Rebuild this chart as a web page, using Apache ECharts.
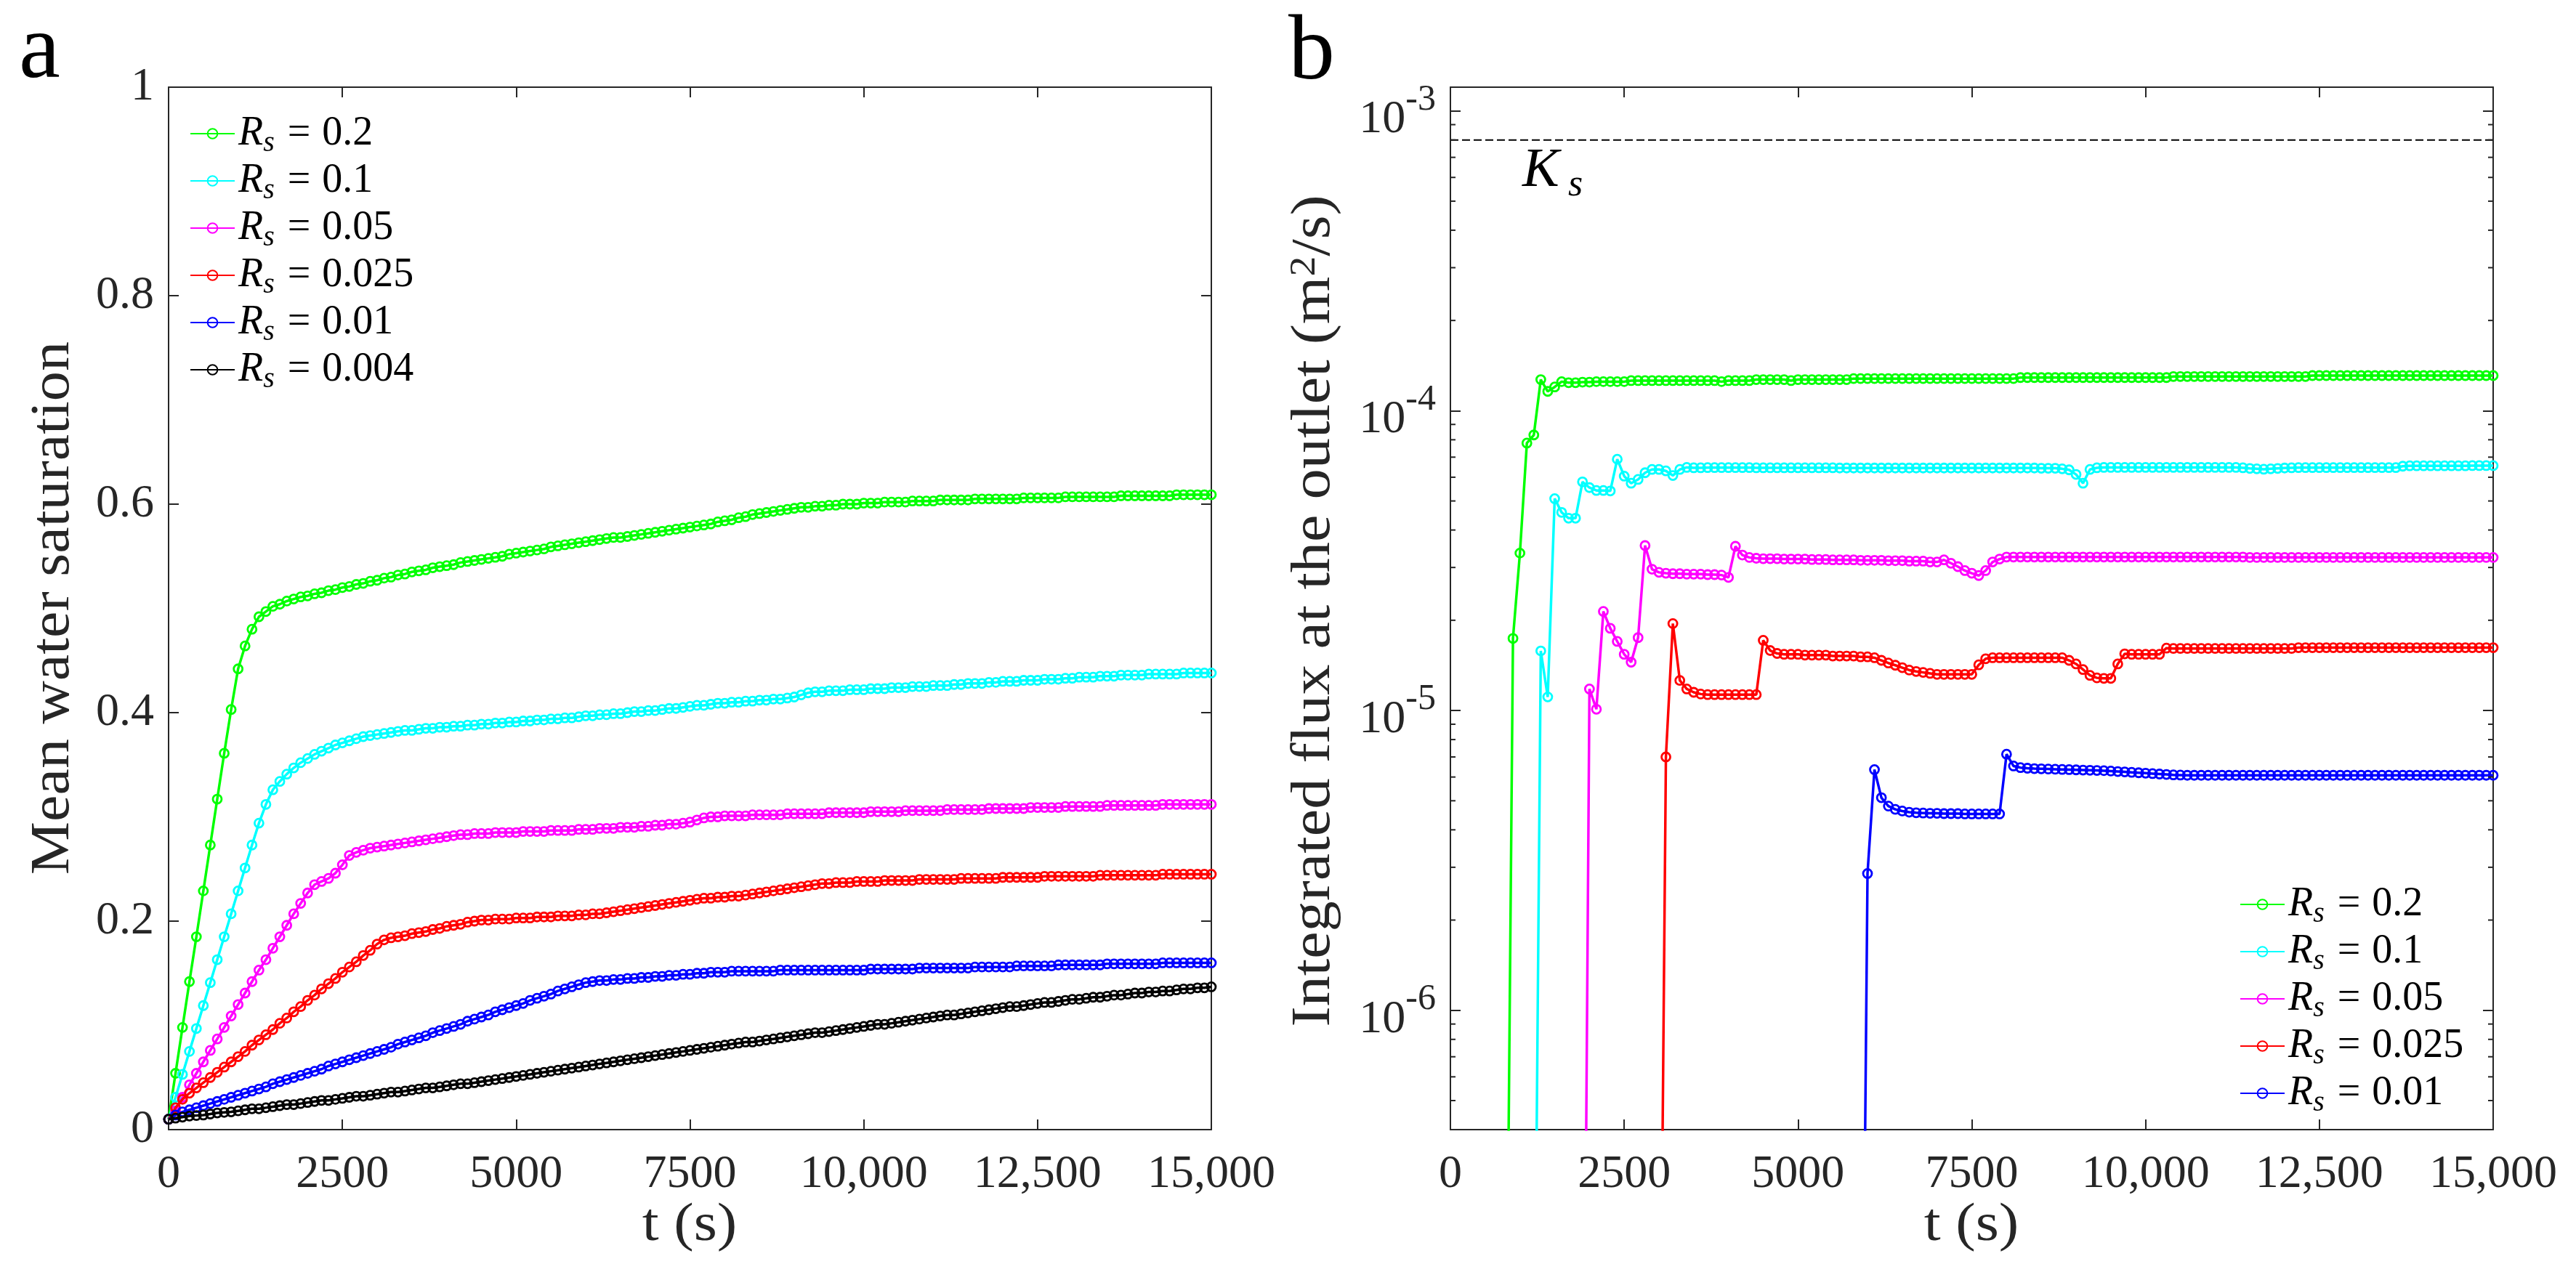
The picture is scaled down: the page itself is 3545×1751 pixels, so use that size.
<!DOCTYPE html>
<html>
<head>
<meta charset="utf-8">
<script src="https://cdn.jsdelivr.net/npm/echarts@6/dist/echarts.min.js"></script>
<style>
html, body { margin: 0; padding: 0; background: #fff; }
#chart { width: 3545px; height: 1751px; }
</style>
</head>
<body>
<div id="chart"></div>
<script>
// time axis, one sample every 100 s
var T = [
  0,100,200,300,400,500,600,700,800,900,
  1000,1100,1200,1300,1400,1500,1600,1700,1800,1900,
  2000,2100,2200,2300,2400,2500,2600,2700,2800,2900,
  3000,3100,3200,3300,3400,3500,3600,3700,3800,3900,
  4000,4100,4200,4300,4400,4500,4600,4700,4800,4900,
  5000,5100,5200,5300,5400,5500,5600,5700,5800,5900,
  6000,6100,6200,6300,6400,6500,6600,6700,6800,6900,
  7000,7100,7200,7300,7400,7500,7600,7700,7800,7900,
  8000,8100,8200,8300,8400,8500,8600,8700,8800,8900,
  9000,9100,9200,9300,9400,9500,9600,9700,9800,9900,
  10000,10100,10200,10300,10400,10500,10600,10700,10800,10900,
  11000,11100,11200,11300,11400,11500,11600,11700,11800,11900,
  12000,12100,12200,12300,12400,12500,12600,12700,12800,12900,
  13000,13100,13200,13300,13400,13500,13600,13700,13800,13900,
  14000,14100,14200,14300,14400,14500,14600,14700,14800,14900,
  15000
];

var rsLabels = ['0.2', '0.1', '0.05', '0.025', '0.01', '0.004'];
var rsColors = ['#00ff00', '#00ffff', '#ff00ff', '#ff0000', '#0000ff', '#000000'];

// panel a: mean water saturation
var satR0200 = [
  0.010,0.054,0.098,0.142,0.185,0.229,0.273,0.317,0.361,0.403,
  0.442,0.464,0.480,0.492,0.497,0.502,0.504,0.507,0.509,0.511,
  0.512,0.514,0.515,0.517,0.518,0.520,0.521,0.523,0.524,0.526,
  0.527,0.529,0.530,0.532,0.533,0.535,0.536,0.537,0.539,0.540,
  0.541,0.542,0.544,0.545,0.546,0.547,0.548,0.549,0.550,0.552,
  0.553,0.554,0.555,0.556,0.557,0.559,0.560,0.561,0.562,0.563,
  0.564,0.565,0.566,0.567,0.568,0.568,0.569,0.570,0.571,0.572,
  0.573,0.574,0.575,0.576,0.577,0.578,0.579,0.580,0.581,0.583,
  0.584,0.585,0.587,0.588,0.590,0.591,0.592,0.593,0.594,0.595,
  0.596,0.597,0.597,0.598,0.598,0.599,0.599,0.600,0.600,0.600,
  0.601,0.601,0.601,0.602,0.602,0.602,0.602,0.603,0.603,0.603,
  0.603,0.604,0.604,0.604,0.604,0.604,0.605,0.605,0.605,0.605,
  0.605,0.605,0.605,0.606,0.606,0.606,0.606,0.606,0.606,0.607,
  0.607,0.607,0.607,0.607,0.607,0.607,0.607,0.608,0.608,0.608,
  0.608,0.608,0.608,0.608,0.608,0.609,0.609,0.609,0.609,0.609,
  0.609
];
var satR0100 = [
  0.010,0.031,0.053,0.075,0.097,0.119,0.141,0.163,0.185,0.207,
  0.229,0.251,0.273,0.294,0.312,0.326,0.334,0.341,0.347,0.352,
  0.356,0.360,0.363,0.366,0.369,0.371,0.373,0.375,0.377,0.378,
  0.379,0.380,0.381,0.382,0.383,0.383,0.384,0.385,0.385,0.386,
  0.386,0.387,0.387,0.388,0.388,0.389,0.389,0.390,0.390,0.391,
  0.391,0.392,0.392,0.393,0.393,0.394,0.394,0.395,0.395,0.396,
  0.397,0.397,0.398,0.398,0.399,0.399,0.400,0.401,0.401,0.402,
  0.402,0.403,0.404,0.404,0.405,0.406,0.407,0.407,0.408,0.409,
  0.409,0.410,0.410,0.411,0.411,0.412,0.412,0.413,0.413,0.414,
  0.415,0.417,0.419,0.420,0.420,0.421,0.421,0.421,0.422,0.422,
  0.422,0.423,0.423,0.423,0.424,0.424,0.424,0.425,0.425,0.425,
  0.426,0.426,0.426,0.427,0.427,0.428,0.428,0.428,0.429,0.429,
  0.430,0.430,0.430,0.431,0.431,0.431,0.432,0.432,0.432,0.433,
  0.433,0.434,0.434,0.434,0.435,0.435,0.435,0.436,0.436,0.436,
  0.436,0.437,0.437,0.437,0.437,0.437,0.438,0.438,0.438,0.438,
  0.438
];
var satR0050 = [
  0.010,0.018,0.031,0.043,0.054,0.065,0.076,0.087,0.098,0.109,
  0.120,0.131,0.142,0.153,0.163,0.174,0.185,0.196,0.207,0.217,
  0.227,0.235,0.238,0.241,0.246,0.254,0.263,0.266,0.268,0.270,
  0.271,0.272,0.273,0.274,0.275,0.276,0.277,0.278,0.279,0.280,
  0.281,0.282,0.283,0.283,0.284,0.284,0.284,0.285,0.285,0.285,
  0.285,0.286,0.286,0.286,0.286,0.287,0.287,0.287,0.287,0.288,
  0.288,0.288,0.289,0.289,0.289,0.290,0.290,0.290,0.291,0.291,
  0.292,0.292,0.293,0.293,0.294,0.295,0.297,0.299,0.300,0.300,
  0.301,0.301,0.301,0.301,0.302,0.302,0.302,0.302,0.302,0.303,
  0.303,0.303,0.303,0.303,0.303,0.304,0.304,0.304,0.304,0.304,
  0.304,0.305,0.305,0.305,0.305,0.305,0.306,0.306,0.306,0.306,
  0.306,0.306,0.307,0.307,0.307,0.307,0.307,0.307,0.308,0.308,
  0.308,0.308,0.308,0.308,0.309,0.309,0.309,0.309,0.309,0.310,
  0.310,0.310,0.310,0.310,0.310,0.311,0.311,0.311,0.311,0.311,
  0.311,0.311,0.311,0.312,0.312,0.312,0.312,0.312,0.312,0.312,
  0.312
];
var satR0025 = [
  0.010,0.021,0.029,0.035,0.040,0.045,0.050,0.055,0.060,0.065,
  0.070,0.075,0.081,0.086,0.091,0.096,0.102,0.107,0.113,0.118,
  0.124,0.129,0.135,0.140,0.145,0.151,0.156,0.161,0.167,0.172,
  0.178,0.182,0.184,0.185,0.186,0.188,0.189,0.190,0.192,0.193,
  0.195,0.196,0.197,0.199,0.200,0.201,0.201,0.202,0.202,0.202,
  0.203,0.203,0.203,0.204,0.204,0.204,0.205,0.205,0.205,0.206,
  0.206,0.207,0.207,0.208,0.209,0.210,0.211,0.212,0.213,0.214,
  0.215,0.216,0.217,0.218,0.219,0.220,0.221,0.222,0.222,0.223,
  0.223,0.224,0.224,0.225,0.226,0.227,0.228,0.229,0.230,0.231,
  0.232,0.233,0.234,0.235,0.236,0.236,0.237,0.237,0.237,0.238,
  0.238,0.238,0.238,0.239,0.239,0.239,0.239,0.239,0.240,0.240,
  0.240,0.240,0.240,0.240,0.241,0.241,0.241,0.241,0.241,0.241,
  0.242,0.242,0.242,0.242,0.242,0.242,0.243,0.243,0.243,0.243,
  0.243,0.243,0.243,0.243,0.244,0.244,0.244,0.244,0.244,0.244,
  0.244,0.244,0.244,0.245,0.245,0.245,0.245,0.245,0.245,0.245,
  0.245
];
var satR0010 = [
  0.010,0.014,0.017,0.019,0.021,0.023,0.025,0.027,0.029,0.031,
  0.033,0.035,0.037,0.039,0.041,0.044,0.046,0.048,0.050,0.052,
  0.054,0.056,0.058,0.061,0.063,0.065,0.067,0.069,0.071,0.073,
  0.075,0.077,0.079,0.082,0.084,0.086,0.088,0.090,0.093,0.095,
  0.097,0.099,0.101,0.104,0.106,0.108,0.110,0.113,0.115,0.117,
  0.119,0.121,0.124,0.126,0.128,0.130,0.133,0.135,0.137,0.139,
  0.141,0.142,0.143,0.143,0.144,0.144,0.145,0.145,0.146,0.146,
  0.147,0.147,0.148,0.148,0.149,0.149,0.150,0.150,0.151,0.151,
  0.151,0.152,0.152,0.152,0.152,0.152,0.152,0.152,0.153,0.153,
  0.153,0.153,0.153,0.153,0.153,0.153,0.153,0.153,0.153,0.153,
  0.153,0.154,0.154,0.154,0.154,0.154,0.154,0.154,0.155,0.155,
  0.155,0.155,0.155,0.155,0.155,0.155,0.156,0.156,0.156,0.156,
  0.156,0.156,0.157,0.157,0.157,0.157,0.157,0.157,0.158,0.158,
  0.158,0.158,0.158,0.158,0.158,0.159,0.159,0.159,0.159,0.159,
  0.159,0.159,0.159,0.160,0.160,0.160,0.160,0.160,0.160,0.160,
  0.160
];
var satR0004 = [
  0.010,0.011,0.012,0.013,0.0135,0.014,0.015,0.016,0.0165,0.017,
  0.018,0.019,0.020,0.020,0.021,0.022,0.023,0.024,0.024,0.025,
  0.026,0.027,0.028,0.028,0.029,0.030,0.031,0.032,0.032,0.033,
  0.034,0.035,0.036,0.036,0.037,0.038,0.039,0.040,0.040,0.041,
  0.042,0.043,0.044,0.044,0.045,0.046,0.047,0.048,0.049,0.050,
  0.051,0.052,0.053,0.054,0.055,0.056,0.057,0.058,0.059,0.060,
  0.061,0.062,0.063,0.064,0.065,0.066,0.067,0.068,0.069,0.070,
  0.071,0.072,0.073,0.074,0.075,0.076,0.077,0.078,0.079,0.080,
  0.081,0.082,0.083,0.084,0.084,0.085,0.086,0.087,0.088,0.089,
  0.090,0.091,0.092,0.093,0.093,0.094,0.095,0.096,0.097,0.098,
  0.099,0.100,0.101,0.101,0.102,0.103,0.104,0.105,0.106,0.107,
  0.108,0.109,0.110,0.110,0.111,0.112,0.113,0.114,0.115,0.116,
  0.117,0.118,0.118,0.119,0.120,0.121,0.122,0.122,0.123,0.124,
  0.125,0.125,0.126,0.127,0.127,0.128,0.129,0.129,0.130,0.131,
  0.131,0.132,0.132,0.133,0.133,0.134,0.135,0.135,0.136,0.136,
  0.137
];

// panel b: integrated outlet flux (m2/s); null = nothing plotted yet
var fluxR0200 = [
  null,null,null,null,null,null,null,null,4e-8,1.74e-5,
  3.35e-5,7.8e-5,8.3e-5,1.27e-4,1.16e-4,1.20e-4,1.25e-4,1.24e-4,1.24e-4,1.245e-4,
  1.245e-4,1.25e-4,1.25e-4,1.25e-4,1.25e-4,1.25e-4,1.26e-4,1.26e-4,1.26e-4,1.26e-4,
  1.26e-4,1.26e-4,1.26e-4,1.26e-4,1.26e-4,1.26e-4,1.26e-4,1.26e-4,1.26e-4,1.25e-4,
  1.26e-4,1.26e-4,1.26e-4,1.26e-4,1.27e-4,1.27e-4,1.27e-4,1.27e-4,1.27e-4,1.26e-4,
  1.27e-4,1.27e-4,1.27e-4,1.27e-4,1.27e-4,1.27e-4,1.27e-4,1.27e-4,1.28e-4,1.28e-4,
  1.28e-4,1.28e-4,1.28e-4,1.28e-4,1.28e-4,1.28e-4,1.28e-4,1.28e-4,1.28e-4,1.28e-4,
  1.28e-4,1.28e-4,1.28e-4,1.28e-4,1.28e-4,1.28e-4,1.28e-4,1.28e-4,1.28e-4,1.28e-4,
  1.28e-4,1.28e-4,1.29e-4,1.29e-4,1.29e-4,1.29e-4,1.29e-4,1.29e-4,1.29e-4,1.29e-4,
  1.29e-4,1.29e-4,1.29e-4,1.29e-4,1.29e-4,1.29e-4,1.29e-4,1.29e-4,1.29e-4,1.29e-4,
  1.29e-4,1.29e-4,1.29e-4,1.29e-4,1.30e-4,1.30e-4,1.30e-4,1.30e-4,1.30e-4,1.30e-4,
  1.30e-4,1.30e-4,1.30e-4,1.30e-4,1.30e-4,1.30e-4,1.30e-4,1.30e-4,1.30e-4,1.30e-4,
  1.30e-4,1.30e-4,1.30e-4,1.30e-4,1.31e-4,1.31e-4,1.31e-4,1.31e-4,1.31e-4,1.31e-4,
  1.31e-4,1.31e-4,1.31e-4,1.31e-4,1.31e-4,1.31e-4,1.31e-4,1.31e-4,1.31e-4,1.31e-4,
  1.31e-4,1.31e-4,1.31e-4,1.31e-4,1.31e-4,1.31e-4,1.31e-4,1.31e-4,1.31e-4,1.31e-4,
  1.31e-4
];
var fluxR0100 = [
  null,null,null,null,null,null,null,null,null,null,
  null,null,3e-8,1.58e-5,1.11e-5,5.09e-5,4.58e-5,4.38e-5,4.38e-5,5.79e-5,
  5.54e-5,5.42e-5,5.42e-5,5.40e-5,6.89e-5,6.05e-5,5.73e-5,5.90e-5,6.21e-5,6.37e-5,
  6.37e-5,6.30e-5,6.08e-5,6.37e-5,6.47e-5,6.45e-5,6.45e-5,6.46e-5,6.46e-5,6.46e-5,
  6.46e-5,6.46e-5,6.46e-5,6.46e-5,6.45e-5,6.45e-5,6.45e-5,6.45e-5,6.45e-5,6.45e-5,
  6.45e-5,6.45e-5,6.45e-5,6.45e-5,6.45e-5,6.45e-5,6.44e-5,6.44e-5,6.44e-5,6.44e-5,
  6.44e-5,6.44e-5,6.44e-5,6.44e-5,6.44e-5,6.44e-5,6.44e-5,6.44e-5,6.44e-5,6.44e-5,
  6.44e-5,6.44e-5,6.44e-5,6.44e-5,6.44e-5,6.44e-5,6.44e-5,6.44e-5,6.44e-5,6.44e-5,
  6.44e-5,6.44e-5,6.44e-5,6.44e-5,6.44e-5,6.43e-5,6.43e-5,6.43e-5,6.40e-5,6.35e-5,
  6.13e-5,5.73e-5,6.37e-5,6.45e-5,6.47e-5,6.47e-5,6.47e-5,6.47e-5,6.47e-5,6.47e-5,
  6.47e-5,6.47e-5,6.47e-5,6.47e-5,6.47e-5,6.47e-5,6.47e-5,6.47e-5,6.47e-5,6.47e-5,
  6.47e-5,6.47e-5,6.47e-5,6.47e-5,6.45e-5,6.42e-5,6.40e-5,6.38e-5,6.40e-5,6.42e-5,
  6.44e-5,6.45e-5,6.46e-5,6.46e-5,6.46e-5,6.46e-5,6.46e-5,6.46e-5,6.46e-5,6.46e-5,
  6.46e-5,6.46e-5,6.46e-5,6.46e-5,6.46e-5,6.46e-5,6.46e-5,6.53e-5,6.55e-5,6.55e-5,
  6.55e-5,6.55e-5,6.55e-5,6.55e-5,6.55e-5,6.55e-5,6.55e-5,6.56e-5,6.56e-5,6.56e-5,
  6.56e-5
];
var fluxR0050 = [
  null,null,null,null,null,null,null,null,null,null,
  null,null,null,null,null,null,null,null,null,8e-9,
  1.18e-5,1.01e-5,2.14e-5,1.88e-5,1.70e-5,1.54e-5,1.45e-5,1.75e-5,3.55e-5,2.96e-5,
  2.89e-5,2.87e-5,2.86e-5,2.86e-5,2.85e-5,2.85e-5,2.85e-5,2.84e-5,2.84e-5,2.83e-5,
  2.78e-5,3.53e-5,3.30e-5,3.24e-5,3.22e-5,3.21e-5,3.21e-5,3.21e-5,3.20e-5,3.20e-5,
  3.20e-5,3.20e-5,3.19e-5,3.19e-5,3.19e-5,3.18e-5,3.18e-5,3.18e-5,3.18e-5,3.17e-5,
  3.17e-5,3.17e-5,3.17e-5,3.16e-5,3.16e-5,3.16e-5,3.15e-5,3.15e-5,3.15e-5,3.13e-5,
  3.13e-5,3.18e-5,3.10e-5,3.02e-5,2.93e-5,2.87e-5,2.82e-5,2.93e-5,3.13e-5,3.20e-5,
  3.25e-5,3.25e-5,3.25e-5,3.25e-5,3.25e-5,3.25e-5,3.25e-5,3.25e-5,3.25e-5,3.25e-5,
  3.25e-5,3.25e-5,3.25e-5,3.25e-5,3.25e-5,3.25e-5,3.25e-5,3.25e-5,3.25e-5,3.25e-5,
  3.25e-5,3.25e-5,3.25e-5,3.25e-5,3.25e-5,3.25e-5,3.25e-5,3.25e-5,3.25e-5,3.25e-5,
  3.25e-5,3.25e-5,3.25e-5,3.25e-5,3.25e-5,3.24e-5,3.24e-5,3.24e-5,3.24e-5,3.24e-5,
  3.24e-5,3.24e-5,3.24e-5,3.24e-5,3.24e-5,3.24e-5,3.24e-5,3.24e-5,3.24e-5,3.24e-5,
  3.24e-5,3.24e-5,3.24e-5,3.24e-5,3.24e-5,3.24e-5,3.24e-5,3.24e-5,3.24e-5,3.24e-5,
  3.24e-5,3.24e-5,3.24e-5,3.24e-5,3.24e-5,3.24e-5,3.24e-5,3.24e-5,3.24e-5,3.24e-5,
  3.24e-5
];
var fluxR0025 = [
  null,null,null,null,null,null,null,null,null,null,
  null,null,null,null,null,null,null,null,null,null,
  null,null,null,null,null,null,null,null,null,null,
  1.6e-8,7.0e-6,1.95e-5,1.26e-5,1.18e-5,1.15e-5,1.135e-5,1.13e-5,1.13e-5,1.13e-5,
  1.13e-5,1.13e-5,1.13e-5,1.13e-5,1.13e-5,1.715e-5,1.585e-5,1.55e-5,1.54e-5,1.54e-5,
  1.54e-5,1.53e-5,1.53e-5,1.53e-5,1.53e-5,1.52e-5,1.52e-5,1.52e-5,1.52e-5,1.51e-5,
  1.51e-5,1.50e-5,1.47e-5,1.44e-5,1.416e-5,1.39e-5,1.364e-5,1.35e-5,1.34e-5,1.33e-5,
  1.32e-5,1.32e-5,1.32e-5,1.32e-5,1.32e-5,1.32e-5,1.42e-5,1.488e-5,1.50e-5,1.50e-5,
  1.50e-5,1.50e-5,1.50e-5,1.50e-5,1.50e-5,1.50e-5,1.50e-5,1.50e-5,1.50e-5,1.47e-5,
  1.43e-5,1.37e-5,1.31e-5,1.285e-5,1.28e-5,1.28e-5,1.43e-5,1.545e-5,1.54e-5,1.54e-5,
  1.54e-5,1.54e-5,1.54e-5,1.615e-5,1.61e-5,1.61e-5,1.61e-5,1.61e-5,1.61e-5,1.61e-5,
  1.61e-5,1.61e-5,1.61e-5,1.61e-5,1.61e-5,1.61e-5,1.61e-5,1.61e-5,1.61e-5,1.61e-5,
  1.61e-5,1.61e-5,1.62e-5,1.62e-5,1.62e-5,1.62e-5,1.62e-5,1.62e-5,1.62e-5,1.62e-5,
  1.62e-5,1.62e-5,1.62e-5,1.62e-5,1.62e-5,1.62e-5,1.62e-5,1.62e-5,1.62e-5,1.62e-5,
  1.62e-5,1.62e-5,1.62e-5,1.62e-5,1.62e-5,1.62e-5,1.62e-5,1.62e-5,1.62e-5,1.62e-5,
  1.62e-5
];
var fluxR0010 = [
  null,null,null,null,null,null,null,null,null,null,
  null,null,null,null,null,null,null,null,null,null,
  null,null,null,null,null,null,null,null,null,null,
  null,null,null,null,null,null,null,null,null,null,
  null,null,null,null,null,null,null,null,null,null,
  null,null,null,null,null,null,null,null,null,8e-9,
  2.86e-6,6.35e-6,5.12e-6,4.80e-6,4.68e-6,4.62e-6,4.58e-6,4.56e-6,4.55e-6,4.54e-6,
  4.54e-6,4.53e-6,4.53e-6,4.53e-6,4.52e-6,4.52e-6,4.52e-6,4.52e-6,4.52e-6,4.52e-6,
  7.15e-6,6.53e-6,6.45e-6,6.42e-6,6.40e-6,6.39e-6,6.38e-6,6.37e-6,6.36e-6,6.35e-6,
  6.34e-6,6.33e-6,6.32e-6,6.31e-6,6.30e-6,6.28e-6,6.26e-6,6.24e-6,6.22e-6,6.20e-6,
  6.18e-6,6.16e-6,6.14e-6,6.12e-6,6.10e-6,6.09e-6,6.08e-6,6.08e-6,6.08e-6,6.08e-6,
  6.08e-6,6.08e-6,6.08e-6,6.08e-6,6.08e-6,6.08e-6,6.08e-6,6.08e-6,6.08e-6,6.08e-6,
  6.08e-6,6.08e-6,6.08e-6,6.08e-6,6.08e-6,6.08e-6,6.08e-6,6.08e-6,6.08e-6,6.08e-6,
  6.08e-6,6.08e-6,6.08e-6,6.08e-6,6.08e-6,6.08e-6,6.08e-6,6.08e-6,6.08e-6,6.08e-6,
  6.08e-6,6.08e-6,6.08e-6,6.08e-6,6.08e-6,6.08e-6,6.08e-6,6.08e-6,6.08e-6,6.08e-6,
  6.08e-6
];

var ksValue = 8.0e-4;

var xTicks = [0, 2500, 5000, 7500, 10000, 12500, 15000];
var xTickLabels = ['0', '2500', '5000', '7500', '10,000', '12,500', '15,000'];
var satTicks = [0, 0.2, 0.4, 0.6, 0.8, 1];
var satTickLabels = ['0', '0.2', '0.4', '0.6', '0.8', '1'];
var fluxTickExps = [-6, -5, -4, -3];
var fluxMinorTicks = [
  5e-7,6e-7,7e-7,8e-7,9e-7,
  2e-6,3e-6,4e-6,5e-6,6e-6,7e-6,8e-6,9e-6,
  2e-5,3e-5,4e-5,5e-5,6e-5,7e-5,8e-5,9e-5,
  2e-4,3e-4,4e-4,5e-4,6e-4,7e-4,8e-4,9e-4
];

var FONT = 'Liberation Serif';
var INK = '#262626';

var satSeries = [satR0200, satR0100, satR0050, satR0025, satR0010, satR0004];
var fluxSeries = [fluxR0200, fluxR0100, fluxR0050, fluxR0025, fluxR0010];
var names = rsLabels.map(function (r) { return 'R_s = ' + r; });

function pairs(vals) {
  return T.map(function (t, i) { return [t, vals[i]]; });
}

function curve(i, vals, axisIdx) {
  return {
    type: 'line',
    name: names[i],
    xAxisIndex: axisIdx,
    yAxisIndex: axisIdx,
    data: pairs(vals),
    symbol: 'circle',
    symbolSize: 12,
    showAllSymbol: true,
    connectNulls: false,
    lineStyle: { color: rsColors[i], width: 3.5 },
    itemStyle: { color: 'rgba(0,0,0,0)', borderColor: rsColors[i], borderWidth: 2.8 },
    emphasis: { disabled: true },
    silent: true,
    z: 3 + i
  };
}

function findLabel(v, ticks, labels) {
  for (var k = 0; k < ticks.length; k++) {
    if (Math.abs(v - ticks[k]) < 1e-9) return labels[k];
  }
  return '';
}

function xAxisOf(grid, pos) {
  return {
    type: 'value', gridIndex: grid, position: pos,
    min: 0, max: 15000, interval: 2500,
    axisLine: { show: true, onZero: false, lineStyle: { color: INK, width: 2 } },
    axisTick: { show: true, inside: true, length: 14, lineStyle: { color: INK, width: 2 } },
    splitLine: { show: false },
    axisLabel: pos === 'bottom' ? {
      show: true, margin: 30, fontFamily: FONT, fontSize: 64, color: INK,
      formatter: function (v) { return findLabel(v, xTicks, xTickLabels); }
    } : { show: false }
  };
}

function satAxis(pos) {
  return {
    type: 'value', gridIndex: 0, position: pos,
    min: 0, max: 1, interval: 0.2,
    axisLine: { show: true, onZero: false, lineStyle: { color: INK, width: 2 } },
    axisTick: { show: true, inside: true, length: 14, lineStyle: { color: INK, width: 2 } },
    splitLine: { show: false },
    axisLabel: pos === 'left' ? {
      show: true, margin: 20, fontFamily: FONT, fontSize: 64, color: INK,
      formatter: function (v) { return findLabel(v, satTicks, satTickLabels); }
    } : { show: false }
  };
}

function fluxAxis(pos) {
  return {
    type: 'log', logBase: 10, gridIndex: 1, position: pos,
    min: 4.0e-7, max: 1.2e-3,
    axisLine: { show: true, onZero: false, lineStyle: { color: INK, width: 2 } },
    axisTick: { show: true, inside: true, length: 14, lineStyle: { color: INK, width: 2 } },
    splitLine: { show: false },
    axisLabel: pos === 'left' ? {
      show: true, margin: 20, color: INK,
      formatter: function (v) {
        var lg = Math.log10(v);
        var e = Math.round(lg);
        if (Math.abs(lg - e) > 1e-6 || fluxTickExps.indexOf(e) < 0) return '';
        return '{b|10}{e|' + e + '}';
      },
      rich: {
        // padding on top pushes the base down, on bottom lifts the exponent
        b: { fontFamily: FONT, fontSize: 64, color: INK, lineHeight: 64, padding: [26, 0, 0, 0] },
        e: { fontFamily: FONT, fontSize: 50, color: INK, lineHeight: 64, padding: [0, 0, 30, 0] }
      }
    } : { show: false }
  };
}

var legendRich = {
  r: { fontFamily: FONT, fontStyle: 'italic', fontSize: 56, color: '#000', lineHeight: 50 },
  s: { fontFamily: FONT, fontStyle: 'italic', fontSize: 40, color: '#000', lineHeight: 50, padding: [26, 0, 0, 0] },
  q: { fontFamily: FONT, fontSize: 56, color: '#000', lineHeight: 50, padding: [0, 16, 0, 18] },
  v: { fontFamily: FONT, fontSize: 56, color: '#000', lineHeight: 50 }
};
function legendText(name) {
  var idx = names.indexOf(name);
  return '{r|R}{s|s}{q|=}{v|' + rsLabels[idx] + '}';
}
function legendOf(left, top, list) {
  return {
    data: list, orient: 'vertical', left: left, top: top, padding: 0,
    itemWidth: 61, itemHeight: 17, itemGap: -1, selectedMode: false,
    formatter: legendText,
    textStyle: { rich: legendRich }
  };
}

var series = [];
satSeries.forEach(function (vals, i) { series.push(curve(i, vals, 0)); });
fluxSeries.forEach(function (vals, i) { series.push(curve(i, vals, 2)); });
// saturated conductivity reference line
series.push({
  type: 'line', xAxisIndex: 2, yAxisIndex: 2, silent: true, symbol: 'none',
  data: [[xTicks[0], ksValue], [xTicks[xTicks.length - 1], ksValue]],
  lineStyle: { color: '#000', width: 2, type: [11, 5] }, z: 2
});
// log minor ticks on both sides of panel b
series.push({
  type: 'custom', xAxisIndex: 2, yAxisIndex: 2, silent: true, z: 10,
  data: fluxMinorTicks.map(function (v) { return [0, v]; }),
  renderItem: function (params, api) {
    var y = api.coord([0, api.value(1)])[1];
    var cs = params.coordSys;
    var st = { stroke: INK, lineWidth: 2 };
    return {
      type: 'group',
      children: [
        { type: 'line', shape: { x1: cs.x, y1: y, x2: cs.x + 7, y2: y }, style: st },
        { type: 'line', shape: { x1: cs.x + cs.width - 7, y1: y, x2: cs.x + cs.width, y2: y }, style: st }
      ]
    };
  }
});

function label(text, x, y, size, opts) {
  opts = opts || {};
  return {
    type: 'text', x: x, y: y, rotation: opts.rot || 0,
    scaleX: opts.stretch || 1, silent: true, z: 100,
    style: {
      text: text, fontFamily: FONT, fontSize: size, fontStyle: opts.italic ? 'italic' : 'normal',
      fill: opts.fill || '#000', align: opts.align || 'center', verticalAlign: 'middle',
      rich: opts.rich
    }
  };
}

var chart = echarts.init(document.getElementById('chart'));
chart.setOption({
  animation: false,
  backgroundColor: '#fff',
  textStyle: { fontFamily: FONT },
  grid: [
    { left: 232, top: 120, width: 1435, height: 1435 },
    { left: 1996, top: 120, width: 1435, height: 1435 }
  ],
  xAxis: [xAxisOf(0, 'bottom'), xAxisOf(0, 'top'), xAxisOf(1, 'bottom'), xAxisOf(1, 'top')],
  yAxis: [satAxis('left'), satAxis('right'), fluxAxis('left'), fluxAxis('right')],
  legend: [legendOf(261, 151, names), legendOf(3082, 1212, names.slice(0, 5))],
  series: series,
  graphic: [
    label('a', 26, 72, 128, { align: 'left' }),
    label('b', 1773, 74, 128, { align: 'left' }),
    label('Mean water saturation', 74, 837, 76, { rot: Math.PI / 2, fill: INK, stretch: 1.08 }),
    label('Integrated flux at the outlet (m{sup|2}/s)', 1809, 841, 76, {
      rot: Math.PI / 2, fill: INK, stretch: 1.11,
      rich: { sup: { fontFamily: FONT, fontSize: 50, fill: INK, verticalAlign: 'top', lineHeight: 40 } }
    }),
    label('t (s)', 949, 1687, 75, { fill: INK, stretch: 1.1 }),
    label('t (s)', 2713, 1687, 75, { fill: INK, stretch: 1.1 }),
    label('K', 2095, 236, 76, { italic: true, align: 'left' }),
    label('s', 2158, 255, 52, { italic: true, align: 'left' })
  ]
});
</script>
</body>
</html>
